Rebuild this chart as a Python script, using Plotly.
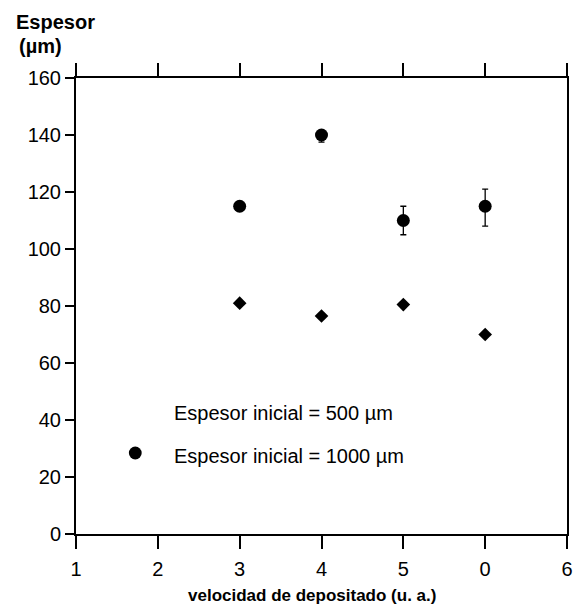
import plotly.graph_objects as go

# Data
x_labels = ["1", "2", "3", "4", "5", "0", "6"]
y_ticks = [0, 20, 40, 60, 80, 100, 120, 140, 160]

cats_1000 = ["3", "4", "5", "0"]
esp_1000 = [115, 140, 110, 115]
err_1000_plus = [0, 0, 5, 6]
err_1000_minus = [0, 2.5, 5, 7]

cats_500 = ["3", "4", "5", "0"]
esp_500 = [81, 76.5, 80.5, 70]

pos = {lab: i for i, lab in enumerate(x_labels)}
x1000 = [pos[c] for c in cats_1000]
x500 = [pos[c] for c in cats_500]

FONT = "Liberation Sans, Arial, Helvetica, sans-serif"
L, R, T, B = 76, 5, 78, 77
PW, PH = 578 - L - R, 611 - T - B

fig = go.Figure()
fig.add_trace(go.Scatter(
    x=x1000, y=esp_1000, mode="markers",
    marker=dict(symbol="circle", size=13, color="black"),
    error_y=dict(type="data", symmetric=False, array=err_1000_plus,
                 arrayminus=err_1000_minus, color="black", thickness=1.3, width=3),
    showlegend=False,
))
fig.add_trace(go.Scatter(
    x=x500, y=esp_500, mode="markers",
    marker=dict(symbol="diamond", size=10.5, color="black"),
    showlegend=False,
))

fig.update_layout(
    width=578, height=611,
    margin=dict(l=L, r=R, t=T, b=B),
    plot_bgcolor="white", paper_bgcolor="white",
    font=dict(family=FONT, size=20, color="black"),
    xaxis=dict(
        range=[0, 6], tickmode="array", tickvals=list(range(len(x_labels))),
        ticktext=x_labels, showgrid=False, zeroline=False,
        showline=True, linecolor="black", linewidth=2, mirror="ticks",
        ticks="outside", ticklen=13, tickwidth=1.5, tickcolor="black",
        ticklabeloverflow="allow", ticklabelstandoff=3,
    ),
    yaxis=dict(
        range=[0, 160], tickmode="array", tickvals=y_ticks,
        showgrid=False, zeroline=False,
        showline=True, linecolor="black", linewidth=2, mirror=True,
        ticks="outside", ticklen=9, tickwidth=1.5, tickcolor="black",
        ticklabeloverflow="allow",
    ),
)

fig.add_annotation(text="<b>Espesor</b>", xref="paper", yref="paper",
                   x=(13 - L) / PW, y=(534 - 22) / PH, xanchor="left", yanchor="middle",
                   showarrow=False, font=dict(size=20))
fig.add_annotation(text="<b>(µm)</b>", xref="paper", yref="paper",
                   x=(16 - L) / PW, y=(534 - 46) / PH, xanchor="left", yanchor="middle",
                   showarrow=False, font=dict(size=20))
fig.add_annotation(text="<b>velocidad de depositado (u. a.)</b>", xref="paper", yref="paper",
                   x=(315 - L) / PW, y=(534 - 595) / PH, xanchor="center", yanchor="middle",
                   showarrow=False, font=dict(size=17))

fig.add_annotation(text="Espesor inicial = 500 µm", xref="paper", yref="paper",
                   x=(173 - L) / PW, y=(534 - 413) / PH, xanchor="left", yanchor="middle",
                   showarrow=False, font=dict(size=20))
fig.add_annotation(text="Espesor inicial = 1000 µm", xref="paper", yref="paper",
                   x=(173 - L) / PW, y=(534 - 456) / PH, xanchor="left", yanchor="middle",
                   showarrow=False, font=dict(size=20))
# legend circle marker
cx, cy, r = (136 - L) / PW, (534 - 453) / PH, 6.5
fig.add_shape(type="circle", xref="paper", yref="paper",
              x0=cx - r / PW, x1=cx + r / PW, y0=cy - r / PH, y1=cy + r / PH,
              fillcolor="black", line=dict(color="black", width=0))

fig.write_html("out.html", config={"displayModeBar": False},
               post_script="document.body.style.margin='0';document.body.style.overflow='hidden';")
